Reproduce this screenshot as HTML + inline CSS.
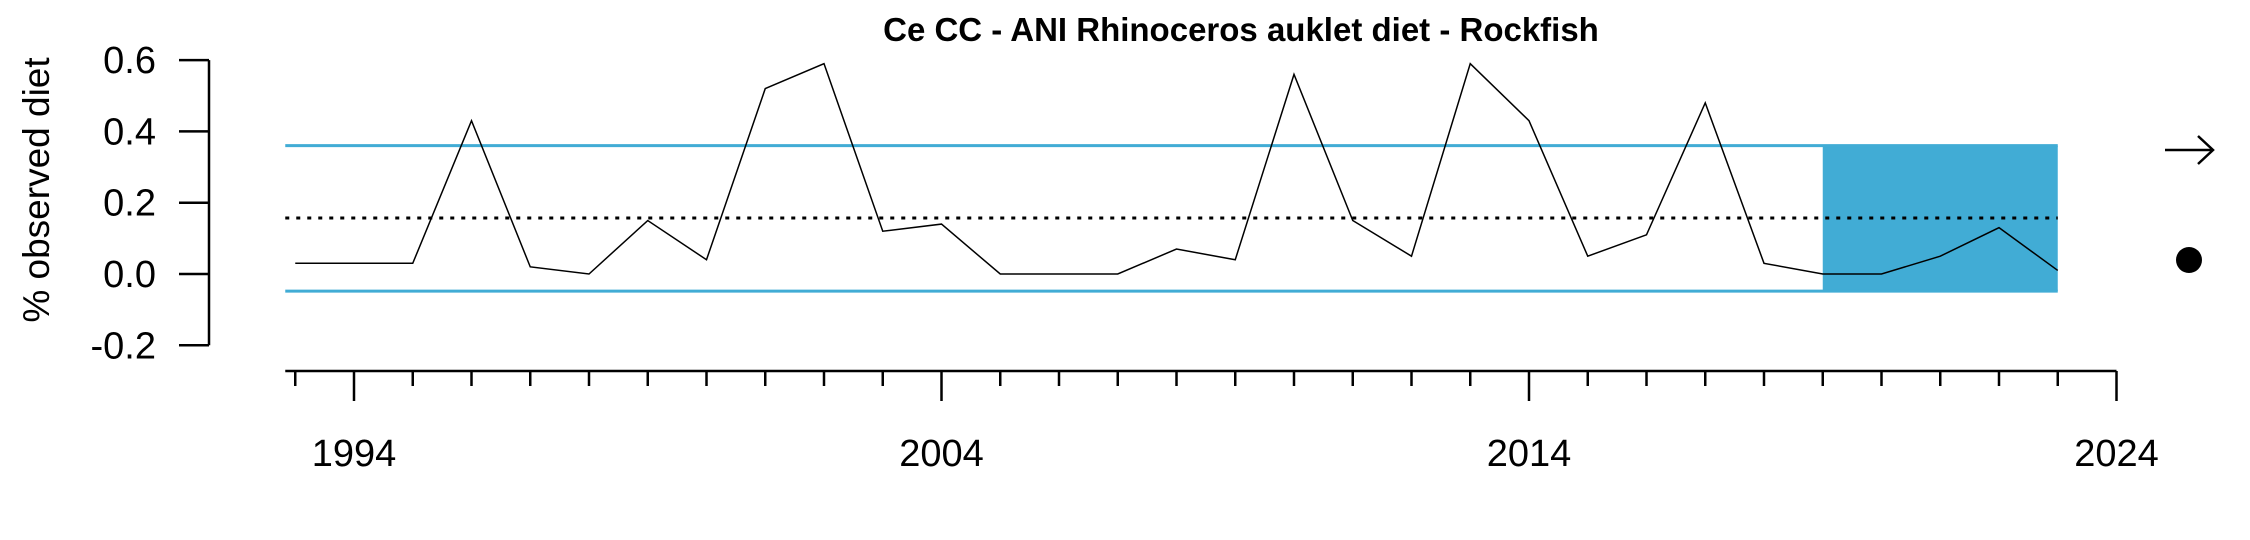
<!DOCTYPE html>
<html><head><meta charset="utf-8"><style>
html,body{margin:0;padding:0;background:#fff;}
svg{display:block;font-family:"Liberation Sans",Arial,sans-serif;}
</style></head><body>
<svg id="chart" width="2250" height="540" viewBox="0 0 2250 540" xmlns="http://www.w3.org/2000/svg"></svg>
<script>
const years=[1993,1994,1995,1996,1997,1998,1999,2000,2001,2002,2003,2004,2005,2006,2007,2008,2009,2010,2011,2012,2013,2014,2015,2016,2017,2018,2019,2020,2021,2022,2023];
const values=[0.03,0.03,0.03,0.43,0.02,0,0.15,0.04,0.52,0.59,0.12,0.14,0,0,0,0.07,0.04,0.56,0.15,0.05,0.59,0.43,0.05,0.11,0.48,0.03,0,0,0.05,0.13,0.01];
const meanVal=0.157;
const upperVal=0.36;
const lowerVal=-0.048;
const yTicks=[-0.2,0,0.2,0.4,0.6];
const yTickLabels=["-0.2","0.0","0.2","0.4","0.6"];
const xMajor=[1994,2004,2014,2024];
const shadeStart=2019, shadeEnd=2023;

const NS="http://www.w3.org/2000/svg";
const svg=document.getElementById('chart');
const X=yr=>354+(yr-1994)*58.75;
const Y=v=>274-v*356.5;
function el(tag,attrs,parent){const e=document.createElementNS(NS,tag);for(const k in attrs)e.setAttribute(k,attrs[k]);(parent||svg).appendChild(e);return e;}

let t=el('text',{x:1241,y:41,'text-anchor':'middle','font-size':33,'font-weight':'bold'});


t.textContent='Ce CC - ANI Rhinoceros auklet diet - Rockfish';

let r=el('rect',{x:X(shadeStart),y:Y(upperVal),width:X(shadeEnd)-X(shadeStart),height:Y(lowerVal)-Y(upperVal),fill:'#41acd5'});



let x0=X(1992.83), x1=X(shadeEnd);
let u=el('line',{x1:x0,x2:x1,y1:Y(upperVal),y2:Y(upperVal),stroke:'#41acd5','stroke-width':3});


let l=el('line',{x1:x0,x2:x1,y1:Y(lowerVal),y2:Y(lowerVal),stroke:'#41acd5','stroke-width':3});


let m=el('line',{x1:x0,x2:x1,y1:Y(meanVal),y2:Y(meanVal),stroke:'#000','stroke-width':3,'stroke-dasharray':'4,7'});



let p=el('polyline',{points:years.map((y,i)=>X(y)+','+Y(values[i])).join(' '),fill:'none',stroke:'#000','stroke-width':1.5});



let ya=el('g',{});


el('line',{x1:209,x2:209,y1:Y(0.6),y2:Y(-0.2),stroke:'#000','stroke-width':2.5},ya);
yTicks.forEach((v,i)=>{
 el('line',{x1:179,x2:209,y1:Y(v),y2:Y(v),stroke:'#000','stroke-width':2.5},ya);
 let tt=el('text',{x:156,y:Y(v)+13,'text-anchor':'end','font-size':38},ya);
 
 
 tt.textContent=yTickLabels[i];
});
let yt=el('text',{x:0,y:0,transform:'translate(49,190) rotate(-90)','text-anchor':'middle','font-size':37});


yt.textContent='% observed diet';

let xa=el('g',{});


el('line',{x1:X(1992.83),x2:X(2024),y1:371,y2:371,stroke:'#000','stroke-width':2.5},xa);
for(let yr=1993;yr<=2024;yr++){
 const major=xMajor.includes(yr);
 el('line',{x1:X(yr),x2:X(yr),y1:371,y2:major?401:386,stroke:'#000','stroke-width':2.5},xa);
}
xMajor.forEach(yr=>{
 let tt=el('text',{x:X(yr),y:466,'text-anchor':'middle','font-size':38},xa);
 
 
 tt.textContent=String(yr);
});

let a=el('g',{stroke:'#000','stroke-width':2.5,fill:'none'});


el('line',{x1:2165,x2:2213,y1:150,y2:150},a);
el('polyline',{points:'2198,136 2213,150 2198,164'},a);
let d=el('ellipse',{cx:2189,cy:260,rx:13,ry:13,fill:'#000'});


</script>
</body></html>
